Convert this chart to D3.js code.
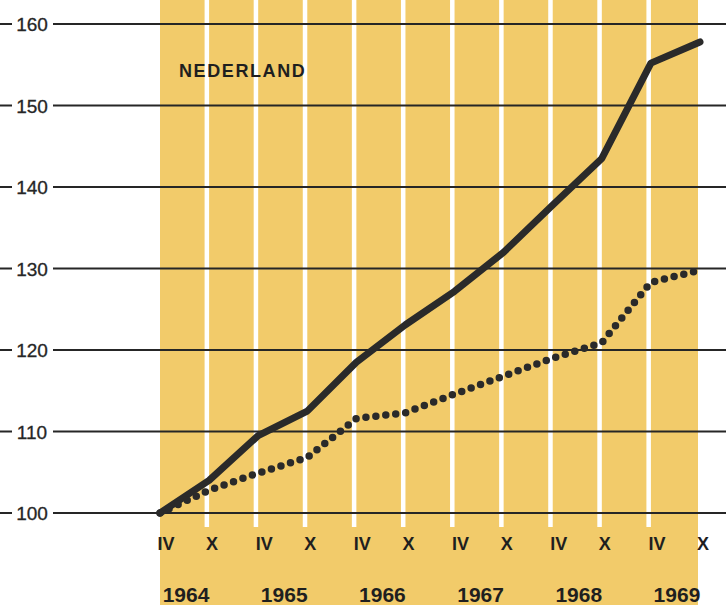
<!DOCTYPE html>
<html>
<head>
<meta charset="utf-8">
<script src="https://cdn.jsdelivr.net/npm/d3@7"></script>
<style>
  html, body { margin: 0; padding: 0; background: #ffffff; }
  svg { display: block; }
</style>
</head>
<body>
<svg id="chart" width="726" height="605"></svg>
<script>
// ---- data ----
const periods = ["IV","X","IV","X","IV","X","IV","X","IV","X","IV","X"];
const years = ["1964","1965","1966","1967","1968","1969"];
const solidValues = [100, 104.0, 109.5, 112.5, 118.5, 123.1, 127.2, 132.0, 137.8, 143.5, 155.2, 157.8];
const dottedValues = [100, 102.8, 104.9, 106.8, 111.6, 112.3, 114.6, 116.8, 119.0, 120.9, 128.3, 129.8];
const yTicks = [100, 110, 120, 130, 140, 150, 160];
const title = "NEDERLAND";

// ---- layout ----
const W = 726, H = 605;
const svg = d3.select("#chart");
const idx = d3.range(periods.length);

const x = d3.scalePoint().domain(idx).range([160, 700]);
const y = d3.scaleLinear().domain([100, 160]).range([513, 24]);

const yellow = "#f2cb6a";
const ink = "#262626";

// yellow panel
svg.append("rect")
  .attr("x", x(0)).attr("y", 0)
  .attr("width", x(idx.length - 1) - 2 - x(0)).attr("height", H)
  .attr("fill", yellow);

// white vertical stripes
svg.append("g").selectAll("rect")
  .data(idx.slice(1, idx.length - 1))
  .join("rect")
  .attr("x", d => x(d) - 4.5)
  .attr("y", 0)
  .attr("width", 4.5)
  .attr("height", 527)
  .attr("fill", "#ffffff");

// grid lines (full width) with a gap for the label
const gy = svg.append("g");
gy.selectAll("line")
  .data(yTicks)
  .join("line")
  .attr("x1", 0).attr("x2", W)
  .attr("y1", d => y(d)).attr("y2", d => y(d))
  .attr("stroke", ink).attr("stroke-width", 1.8);

gy.selectAll("rect")
  .data(yTicks)
  .join("rect")
  .attr("x", 12).attr("width", 41)
  .attr("y", d => y(d) - 10).attr("height", 20)
  .attr("fill", "#ffffff");

gy.selectAll("text")
  .data(yTicks)
  .join("text")
  .attr("x", 32)
  .attr("y", d => y(d) + 7)
  .attr("text-anchor", "middle")
  .attr("font-family", "Liberation Sans, Arial, sans-serif")
  .attr("font-size", 19)
  .attr("stroke", ink)
  .attr("stroke-width", 0.3)
  .attr("fill", ink)
  .text(d => d);

// series lines
const line = (vals) => d3.line().x((d, i) => x(i)).y(d => y(d))(vals);

svg.append("path")
  .attr("d", line(solidValues))
  .attr("fill", "none")
  .attr("stroke", "#2a2a2a")
  .attr("stroke-width", 7)
  .attr("stroke-linejoin", "round")
  .attr("stroke-linecap", "round");

svg.append("path")
  .attr("d", line(dottedValues))
  .attr("fill", "none")
  .attr("stroke", "#2a2a2a")
  .attr("stroke-width", 7.5)
  .attr("stroke-dasharray", "0 10")
  .attr("stroke-linecap", "round");

// title
svg.append("text")
  .attr("x", 179).attr("y", 77)
  .attr("font-family", "Liberation Sans, Arial, sans-serif")
  .attr("font-weight", "bold")
  .attr("font-size", 18)
  .attr("letter-spacing", 1.6)
  .attr("fill", "#1f1f1f")
  .text(title);

// period labels
svg.append("g").selectAll("text")
  .data(idx)
  .join("text")
  .attr("x", i => x(i) + (periods[i] === "IV" ? 6 : 3))
  .attr("y", 550)
  .attr("text-anchor", "middle")
  .attr("font-family", "Liberation Sans, Arial, sans-serif")
  .attr("font-weight", "bold")
  .attr("font-size", 18)
  .attr("fill", "#1f1f1f")
  .text(i => periods[i]);

// year labels
svg.append("g").selectAll("text")
  .data(years)
  .join("text")
  .attr("x", (d, k) => (x(2 * k) + x(2 * k + 1)) / 2 + 1.5)
  .attr("y", 602)
  .attr("text-anchor", "middle")
  .attr("font-family", "Liberation Sans, Arial, sans-serif")
  .attr("font-weight", "bold")
  .attr("font-size", 21)
  .attr("fill", "#1f1f1f")
  .text(d => d);
</script>
</body>
</html>
